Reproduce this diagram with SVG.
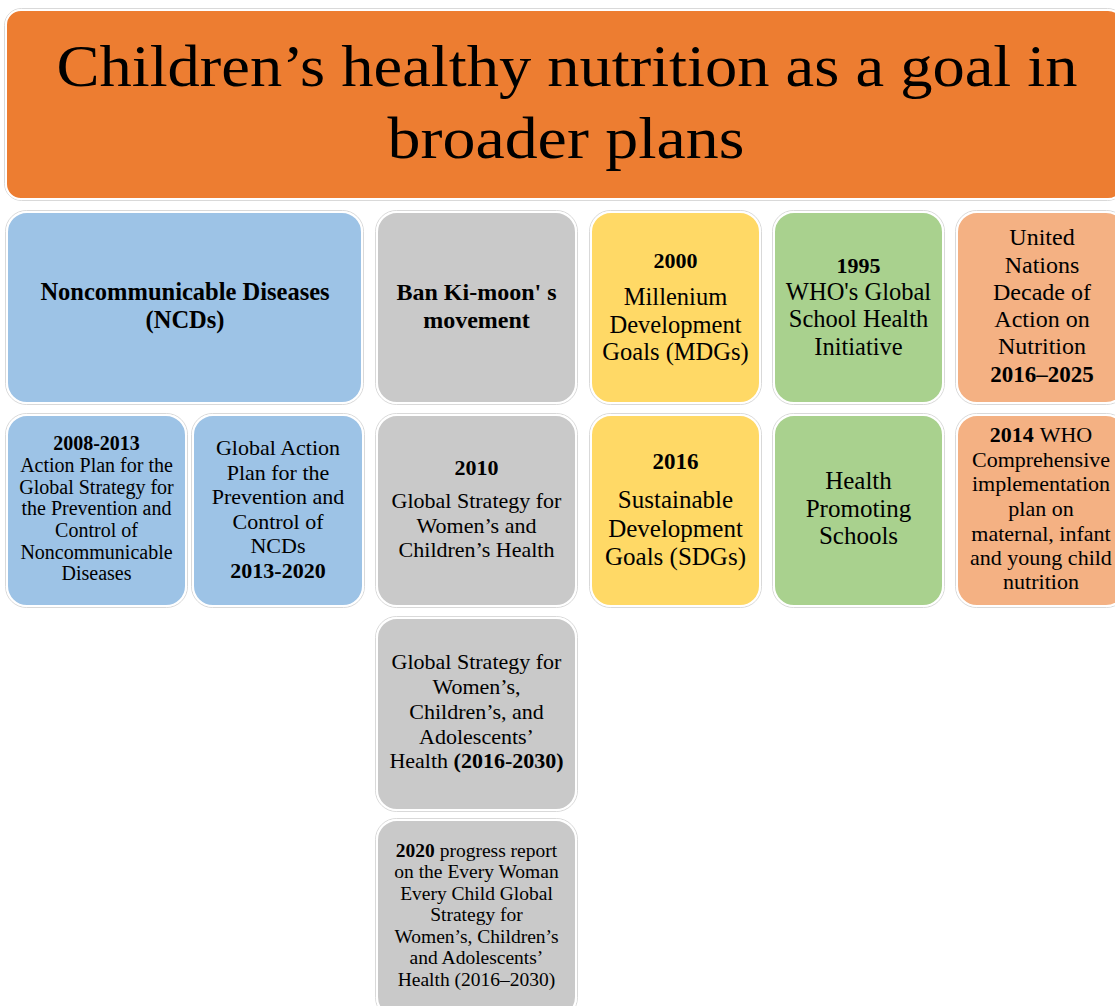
<svg xmlns="http://www.w3.org/2000/svg" width="1115" height="1006" viewBox="0 0 1115 1006">
<style>
.halo{fill:none;stroke:#d9d9d9;stroke-width:1}
.box{stroke:#ffffff;stroke-width:2}
text{font-family:"Liberation Serif","Times New Roman",serif;fill:#000;text-anchor:middle}
.b{font-weight:bold}
</style>
<rect width="1115" height="1006" fill="#ffffff"/>
<g id="title">
<rect class="halo" x="4.5" y="8.5" width="1120" height="192" rx="17"/>
<rect class="box" x="6" y="10" width="1117" height="189" rx="15" fill="#ED7D31"/>
<text style="font-size:60px" x="567" y="86" textLength="1021" lengthAdjust="spacingAndGlyphs">Children’s healthy nutrition as a goal in</text>
<text style="font-size:60px" x="566" y="158" textLength="357" lengthAdjust="spacingAndGlyphs">broader plans</text>
</g>
<g id="ncd">
<rect class="halo" x="5.5" y="210.5" width="358" height="194" rx="21"/>
<rect class="box" x="7" y="212" width="355" height="191" rx="20" fill="#9DC3E6"/>
<text class="b" style="font-size:24.5px" x="185" y="300">Noncommunicable Diseases</text>
<text class="b" style="font-size:24.5px" x="185" y="328">(NCDs)</text>
</g>
<g id="ncd-2008">
<rect class="halo" x="5.5" y="413.5" width="182" height="194" rx="21"/>
<rect class="box" x="7" y="415" width="179" height="191" rx="20" fill="#9DC3E6"/>
<text style="font-size:20px" x="96.5"><tspan class="b" x="96.5" y="450">2008-2013</tspan><tspan x="96.5" y="472">Action Plan for the</tspan><tspan x="96.5" y="493.5">Global Strategy for</tspan><tspan x="96.5" y="515">the Prevention and</tspan><tspan x="96.5" y="537">Control of</tspan><tspan x="96.5" y="558.5">Noncommunicable</tspan><tspan x="96.5" y="580">Diseases</tspan></text>
</g>
<g id="ncd-gap">
<rect class="halo" x="191.5" y="413.5" width="173" height="194" rx="21"/>
<rect class="box" x="193" y="415" width="170" height="191" rx="20" fill="#9DC3E6"/>
<text style="font-size:22px" x="278"><tspan x="278" y="455">Global Action</tspan><tspan x="278" y="479.5">Plan for the</tspan><tspan x="278" y="504">Prevention and</tspan><tspan x="278" y="528.5">Control of</tspan><tspan x="278" y="553">NCDs</tspan><tspan class="b" x="278" y="577.5">2013-2020</tspan></text>
</g>
<g id="bankimoon">
<rect class="halo" x="375.5" y="210.5" width="202" height="194" rx="21"/>
<rect class="box" x="377" y="212" width="199" height="191" rx="20" fill="#C9C9C9"/>
<text class="b" style="font-size:24px" x="476.5" y="300">Ban Ki-moon' s</text>
<text class="b" style="font-size:24px" x="476.5" y="328">movement</text>
</g>
<g id="gs2010">
<rect class="halo" x="375.5" y="413.5" width="202" height="194" rx="21"/>
<rect class="box" x="377" y="415" width="199" height="191" rx="20" fill="#C9C9C9"/>
<text style="font-size:22px" x="476.5"><tspan class="b" x="476.5" y="475">2010</tspan><tspan x="476.5" y="508">Global Strategy for</tspan><tspan x="476.5" y="533">Women’s and</tspan><tspan x="476.5" y="557">Children’s Health</tspan></text>
</g>
<g id="gs2016">
<rect class="halo" x="375.5" y="616.5" width="202" height="195" rx="21"/>
<rect class="box" x="377" y="618" width="199" height="192" rx="20" fill="#C9C9C9"/>
<text style="font-size:22px" x="476.5"><tspan x="476.5" y="669">Global Strategy for</tspan><tspan x="476.5" y="694">Women’s,</tspan><tspan x="476.5" y="719">Children’s, and</tspan><tspan x="476.5" y="744">Adolescents’</tspan><tspan x="476.5" y="768">Health <tspan class="b">(2016-2030)</tspan></tspan></text>
</g>
<g id="progress2020">
<rect class="halo" x="375.5" y="818.5" width="202" height="200" rx="21"/>
<rect class="box" x="377" y="820" width="199" height="197" rx="20" fill="#C9C9C9"/>
<text style="font-size:19.5px" x="476.5"><tspan x="476.5" y="856.5"><tspan class="b">2020</tspan> progress report</tspan><tspan x="476.5" y="878">on the Every Woman</tspan><tspan x="476.5" y="899.5">Every Child Global</tspan><tspan x="476.5" y="921">Strategy for</tspan><tspan x="476.5" y="942.5">Women’s, Children’s</tspan><tspan x="476.5" y="964">and Adolescents’</tspan><tspan x="476.5" y="985.5">Health (2016–2030)</tspan></text>
</g>
<g id="mdg">
<rect class="halo" x="589.5" y="210.5" width="172" height="194" rx="21"/>
<rect class="box" x="591" y="212" width="169" height="191" rx="20" fill="#FFD966"/>
<text style="font-size:24.5px" x="675.5"><tspan class="b" style="font-size:22px" x="675.5" y="268">2000</tspan><tspan x="675.5" y="305">Millenium</tspan><tspan x="675.5" y="333">Development</tspan><tspan x="675.5" y="360">Goals (MDGs)</tspan></text>
</g>
<g id="sdg">
<rect class="halo" x="589.5" y="413.5" width="172" height="194" rx="21"/>
<rect class="box" x="591" y="415" width="169" height="191" rx="20" fill="#FFD966"/>
<text style="font-size:25px" x="675.5"><tspan class="b" style="font-size:23px" x="675.5" y="469">2016</tspan><tspan x="675.5" y="508">Sustainable</tspan><tspan x="675.5" y="537">Development</tspan><tspan x="675.5" y="565">Goals (SDGs)</tspan></text>
</g>
<g id="who1995">
<rect class="halo" x="772.5" y="210.5" width="172" height="194" rx="21"/>
<rect class="box" x="774" y="212" width="169" height="191" rx="20" fill="#A9D18E"/>
<text style="font-size:24.5px" x="858.5"><tspan class="b" style="font-size:22px" x="858.5" y="273">1995</tspan><tspan x="858.5" y="300">WHO's Global</tspan><tspan x="858.5" y="327">School Health</tspan><tspan x="858.5" y="355">Initiative</tspan></text>
</g>
<g id="hps">
<rect class="halo" x="772.5" y="413.5" width="172" height="194" rx="21"/>
<rect class="box" x="774" y="415" width="169" height="191" rx="20" fill="#A9D18E"/>
<text style="font-size:25px" x="858.5"><tspan x="858.5" y="489">Health</tspan><tspan x="858.5" y="517">Promoting</tspan><tspan x="858.5" y="544">Schools</tspan></text>
</g>
<g id="undecade">
<rect class="halo" x="955.5" y="210.5" width="172" height="194" rx="21"/>
<rect class="box" x="957" y="212" width="169" height="191" rx="20" fill="#F4B183"/>
<text style="font-size:24px" x="1042"><tspan x="1042" y="245">United</tspan><tspan x="1042" y="273">Nations</tspan><tspan x="1042" y="300">Decade of</tspan><tspan x="1042" y="327">Action on</tspan><tspan x="1042" y="354">Nutrition</tspan><tspan class="b" style="font-size:23px" x="1042" y="382">2016–2025</tspan></text>
</g>
<g id="who2014">
<rect class="halo" x="955.5" y="413.5" width="172" height="194" rx="21"/>
<rect class="box" x="957" y="415" width="169" height="191" rx="20" fill="#F4B183"/>
<text style="font-size:22px" x="1041"><tspan x="1041" y="442"><tspan class="b">2014</tspan><tspan dx="6">WHO</tspan></tspan><tspan x="1041" y="467">Comprehensive</tspan><tspan x="1041" y="491">implementation</tspan><tspan x="1041" y="516">plan on</tspan><tspan x="1041" y="541">maternal, infant</tspan><tspan x="1041" y="565">and young child</tspan><tspan x="1041" y="589">nutrition</tspan></text>
</g>
</svg>
